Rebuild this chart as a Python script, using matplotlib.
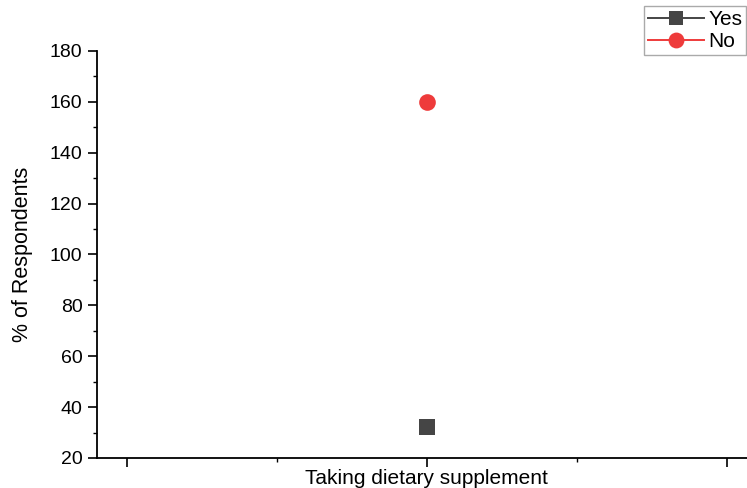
import matplotlib.pyplot as plt
from matplotlib.ticker import MultipleLocator, NullFormatter

plt.rcParams['font.family'] = ['Liberation Sans', 'DejaVu Sans']

# survey answers for the single question
category = "Taking dietary supplement"
answers = ["Yes", "No"]
respondents = [32, 160]
colors = ["#454545", "#ee3b3b"]
markers = ["s", "o"]
marker_sizes = [11, 12]

fig = plt.figure(figsize=(7.47, 4.88), dpi=100)
ax = fig.add_axes([0.130, 0.0615, 0.883, 0.834])

x_pos = 1
for lab, val, c, m, ms in zip(answers, respondents, colors, markers, marker_sizes):
    ax.plot([x_pos], [val], marker=m, color=c, markersize=ms, linestyle='-',
            linewidth=1.4, label=lab, markeredgewidth=0)

ax.set_xlim(-0.1, 2.1)
ax.set_ylim(20, 180)
ax.xaxis.set_major_locator(MultipleLocator(1))
ax.xaxis.set_minor_locator(MultipleLocator(0.5))
ax.xaxis.set_major_formatter(NullFormatter())
ax.yaxis.set_major_locator(MultipleLocator(20))
ax.yaxis.set_minor_locator(MultipleLocator(10))

for side in ['top', 'right']:
    ax.spines[side].set_visible(False)
for side in ['left', 'bottom']:
    ax.spines[side].set_linewidth(1.3)

ax.tick_params(which='major', direction='out', length=6.5, width=1.2,
               labelsize=14, pad=4)
ax.tick_params(which='minor', direction='out', length=3.2, width=1.0)

ax.set_xlabel(category, fontsize=15)
ax.xaxis.set_label_coords(0.5, -0.027)
ax.set_ylabel("% of Respondents", fontsize=15.5)
ax.yaxis.set_label_coords(-0.097, 0.5)

fig.legend(loc='upper right', bbox_to_anchor=(0.999, 0.988), fontsize=15,
           frameon=True, fancybox=False, edgecolor='#aaaaaa', framealpha=1,
           handlelength=2.7, handletextpad=0.2, borderpad=0.2,
           labelspacing=0.15, borderaxespad=0, markerscale=0.95)

fig.savefig("out.png", dpi=100)
